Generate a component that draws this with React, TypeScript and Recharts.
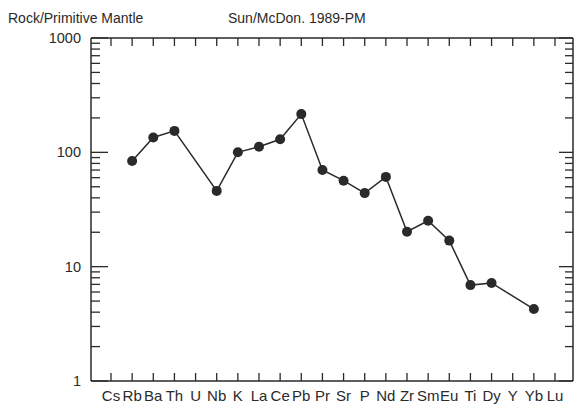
import { LineChart, Line, XAxis, YAxis } from 'recharts';

const elements = ['Cs', 'Rb', 'Ba', 'Th', 'U', 'Nb', 'K', 'La', 'Ce', 'Pb', 'Pr', 'Sr', 'P', 'Nd', 'Zr', 'Sm', 'Eu', 'Ti', 'Dy', 'Y', 'Yb', 'Lu'];
const normalized = [null, 84, 135, 154, null, 46, 100, 112, 130, 216, 70, 56.5, 44, 61, 20.2, 25.2, 16.9, 6.9, 7.2, null, 4.26, null];
const yTicks = [1, 2, 3, 4, 5, 6, 7, 8, 9, 10, 20, 30, 40, 50, 60, 70, 80, 90, 100, 200, 300, 400, 500, 600, 700, 800, 900, 1000];
const yLabels = [1, 10, 100, 1000];

const INK = '#2a2a2a';
const FONT = '"Liberation Sans", Arial, sans-serif';

const data = elements.map((el, i) => ({ el, v: normalized[i] }));

const isMajor = (v: number) => yLabels.includes(v);

const BottomTick = (props: any) => {
  const { x, y, payload } = props;
  return (
    <g>
      <line x1={x} y1={y} x2={x} y2={y - 8} stroke={INK} strokeWidth={1.3} />
      <text x={x} y={y + 20} textAnchor="middle" fontSize={15} fontFamily={FONT} fill={INK}>
        {payload.value}
      </text>
    </g>
  );
};

const TopTick = (props: any) => {
  const { x, y } = props;
  return <line x1={x} y1={y} x2={x} y2={y + 8} stroke={INK} strokeWidth={1.3} />;
};

const LeftTick = (props: any) => {
  const { x, y, payload } = props;
  const major = isMajor(payload.value);
  return (
    <g>
      <line x1={x} y1={y} x2={x + (major ? 17 : 9)} y2={y} stroke={INK} strokeWidth={1.3} />
      {major && (
        <text x={x - 10} y={y + 5} textAnchor="end" fontSize={14.5} fontFamily={FONT} fill={INK}>
          {payload.value}
        </text>
      )}
    </g>
  );
};

const RightTick = (props: any) => {
  const { x, y, payload } = props;
  const major = isMajor(payload.value);
  return <line x1={x} y1={y} x2={x - (major ? 14 : 8)} y2={y} stroke={INK} strokeWidth={1.3} />;
};

export default function App() {
  return (
    <div style={{ position: 'absolute', left: 0, top: 0, width: 575, height: 405, background: '#fff' }}>
      <div style={{ position: 'absolute', left: 8, top: 11, fontFamily: FONT, fontSize: 14, lineHeight: '14px', color: INK }}>
        Rock/Primitive Mantle
      </div>
      <div style={{ position: 'absolute', left: 228, top: 11, fontFamily: FONT, fontSize: 14, lineHeight: '14px', color: INK }}>
        Sun/McDon. 1989-PM
      </div>
      <LineChart width={575} height={405} data={data} margin={{ top: 37, right: 1, bottom: 0, left: 0 }}>
        <XAxis
          dataKey="el"
          interval={0}
          height={24}
          padding={{ left: 20, right: 18 }}
          tickSize={0}
          tickMargin={0}
          tick={<BottomTick />}
          axisLine={{ stroke: INK, strokeWidth: 1.5 }}
        />
        <XAxis
          xAxisId="top"
          dataKey="el"
          orientation="top"
          interval={0}
          height={1}
          padding={{ left: 20, right: 18 }}
          tickSize={0}
          tickMargin={0}
          tick={<TopTick />}
          axisLine={{ stroke: INK, strokeWidth: 1.5 }}
        />
        <YAxis
          scale="log"
          type="number"
          domain={[1, 1000]}
          allowDataOverflow
          ticks={yTicks}
          interval={0}
          width={91}
          tickSize={0}
          tickMargin={0}
          tick={<LeftTick />}
          axisLine={{ stroke: INK, strokeWidth: 1.5 }}
        />
        <YAxis
          yAxisId="right"
          orientation="right"
          scale="log"
          type="number"
          domain={[1, 1000]}
          allowDataOverflow
          ticks={yTicks}
          interval={0}
          width={1}
          tickSize={0}
          tickMargin={0}
          tick={<RightTick />}
          axisLine={{ stroke: INK, strokeWidth: 1.5 }}
        />
        <Line
          dataKey="v"
          stroke={INK}
          strokeWidth={1.5}
          connectNulls
          dot={{ r: 5, fill: INK, stroke: INK, strokeWidth: 0 }}
          isAnimationActive={false}
        />
      </LineChart>
    </div>
  );
}
